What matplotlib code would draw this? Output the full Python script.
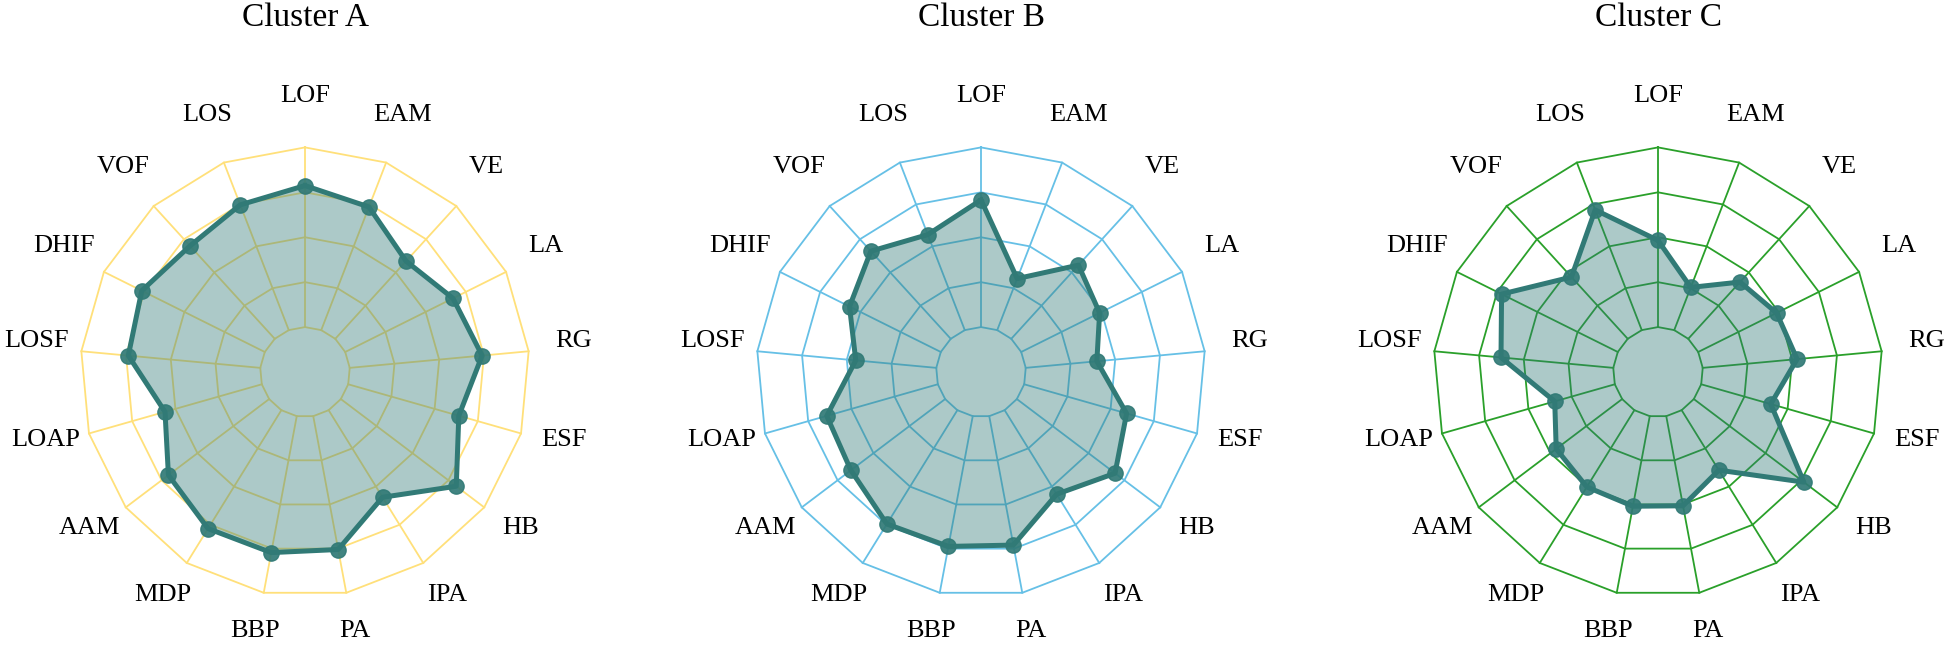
import numpy as np
import matplotlib
matplotlib.use("Agg")
import matplotlib.pyplot as plt
from matplotlib.transforms import ScaledTranslation

categories = ['LOF', 'EAM', 'VE', 'LA', 'RG', 'ESF', 'HB', 'IPA', 'PA', 'BBP',
              'MDP', 'AAM', 'LOAP', 'LOSF', 'DHIF', 'VOF', 'LOS']
cluster_a = [4.15, 3.94, 3.34, 3.68, 3.96, 3.56, 4.22, 3.28, 4.02, 4.09,
             4.10, 3.81, 3.24, 3.95, 4.06, 3.80, 3.99]
cluster_b = [3.83, 2.23, 3.22, 2.95, 2.59, 3.37, 3.74, 3.20, 3.92, 3.95,
             3.98, 3.63, 3.57, 2.80, 3.27, 3.64, 3.28]
cluster_c = [2.93, 2.02, 2.71, 2.95, 3.11, 2.61, 4.07, 2.57, 3.03, 3.04,
             3.01, 2.84, 2.39, 3.51, 3.89, 2.86, 3.87]
titles = ['Cluster A', 'Cluster B', 'Cluster C']
ring_levels = [1, 2, 3, 4, 5]

plt.rcParams['font.family'] = ['Liberation Serif', 'DejaVu Serif']

W, H = 1944, 645
fig = plt.figure(figsize=(W / 100, H / 100), dpi=100)

centers = [(305, 372), (981, 372), (1658, 372)]
R = 224.6
grid_colors = ['#FFE07A', '#66C0E6', '#2AA02A']
teal = '#317A76'
series = [cluster_a, cluster_b, cluster_c]

n = len(categories)
angles = np.arange(n) * 2 * np.pi / n
ang_closed = np.append(angles, angles[0])

for (cx, cy), vals, title, gc in zip(centers, series, titles, grid_colors):
    ax = fig.add_axes([(cx - R) / W, 1 - (cy + R) / H, 2 * R / W, 2 * R / H],
                      projection='polar')
    ax.set_theta_offset(np.pi / 2)
    ax.set_theta_direction(-1)
    ax.set_ylim(0, ring_levels[-1])
    ax.axis('off')

    for lvl in ring_levels:
        ax.plot(ang_closed, [lvl] * (n + 1), color=gc, lw=1.3, zorder=1,
                clip_on=False)
    for th in angles:
        ax.plot([th, th], [ring_levels[0], ring_levels[-1]], color=gc, lw=1.3,
                zorder=1, clip_on=False)

    v_closed = np.append(vals, vals[0])
    ax.fill(ang_closed, v_closed, color=teal, alpha=0.4, lw=0, zorder=2)
    ax.plot(ang_closed, v_closed, color=teal, lw=3.6, zorder=3, clip_on=False)
    ax.plot(angles, vals, 'o', ms=11, color=teal, alpha=0.92, zorder=4,
            clip_on=False)

    lift = ax.transData + ScaledTranslation(0, 6 / 100, fig.dpi_scale_trans)
    for th, lab in zip(angles, categories):
        ax.text(th, 6.0, lab, ha='center', va='center', fontsize=19,
                clip_on=False, transform=lift)

    fig.text(cx / W, 1 - 18 / H, title, ha='center', va='center', fontsize=24)

fig.savefig('out.png', dpi=100)
